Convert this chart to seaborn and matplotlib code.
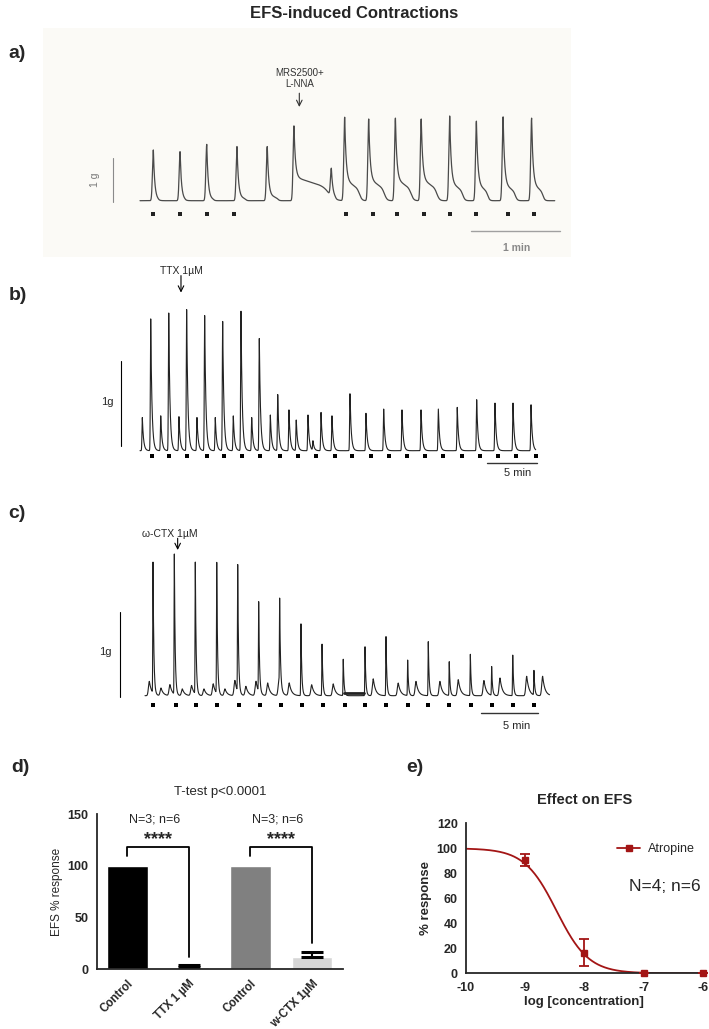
import numpy as np
import pandas as pd
import matplotlib
matplotlib.use('Agg')
import matplotlib.pyplot as plt
import seaborn as sns
from matplotlib.lines import Line2D
from matplotlib.patches import Rectangle

# ---------------- data ----------------
# a) MRS2500 + L-NNA trace (minutes, grams)
a_peak_t = [0.15, 0.45, 0.75, 1.09, 1.43, 1.73, 2.15, 2.30, 2.57, 2.87, 3.16, 3.48, 3.78, 4.08, 4.40]
a_peak_g = [1.18, 1.14, 1.31, 1.26, 1.26, 1.74, 0.65, 1.94, 1.90, 1.92, 1.90, 1.97, 1.85, 1.95, 1.92]
a_tail_g = [0.03, 0.03, 0.05, 0.08, 0.12, 0.55, 0.05, 0.48, 0.50, 0.50, 0.50, 0.42, 0.38, 0.38, 0.38]
a_tail_min = [0.06, 0.06, 0.08, 0.10, 0.12, 0.40, 0.05, 0.17, 0.18, 0.18, 0.18, 0.15, 0.13, 0.14, 0.13]
a_efs_t = [0.15, 0.45, 0.75, 1.06, 2.32, 2.62, 2.89, 3.19, 3.48, 3.78, 4.13, 4.43]
a_end = 4.66

# b) TTX 1 uM trace
b_peak_t = [0.23, 1.06, 2.05, 2.84, 3.85, 4.61, 5.63, 6.39, 7.44, 8.17,
            9.22, 9.98, 11.04, 11.79, 12.88, 13.61, 14.72, 15.44, 16.60, 17.09,
            17.89, 18.97, 20.75, 22.33, 24.08, 25.89, 27.77, 29.48, 31.35, 33.27,
            35.08, 36.86, 38.64]
b_peak_g = [0.39, 1.55, 0.41, 1.62, 0.40, 1.66, 0.39, 1.59, 0.39, 1.52,
            0.41, 1.64, 0.39, 1.32, 0.42, 0.66, 0.48, 0.36, 0.42, 0.11,
            0.45, 0.41, 0.67, 0.44, 0.49, 0.48, 0.48, 0.49, 0.51, 0.60,
            0.56, 0.56, 0.54]
b_efs_t = [1.16, 2.90, 4.67, 6.59, 8.33, 10.11, 11.89, 13.83, 15.58, 17.36, 19.27,
           20.98, 22.80, 24.60, 26.38, 28.13, 29.91, 31.82, 33.57, 35.35, 37.15, 39.13]
b_end = 39.1

# c) w-CTX 1 uM trace
c_efs_peak_t = [0.70, 2.56, 4.39, 6.26, 8.09, 9.92, 11.75, 13.61, 15.45, 17.30,
                19.20, 21.03, 22.92, 24.72, 26.55, 28.39, 30.25, 32.09, 33.94]
c_efs_peak_g = [1.55, 1.66, 1.56, 1.55, 1.50, 1.06, 1.03, 0.85, 0.61, 0.43,
                0.58, 0.70, 0.42, 0.64, 0.40, 0.49, 0.34, 0.48, 0.29]
c_spont_t = [0.38, 1.40, 2.18, 3.26, 4.07, 5.15, 5.96, 6.98, 7.85, 8.81, 9.69, 10.71, 11.69,
             12.59, 14.55, 16.43, 19.92, 22.10, 23.65, 25.74, 27.34, 29.58, 30.98, 33.31, 34.70]
c_spont_g = [0.17, 0.09, 0.13, 0.08, 0.12, 0.08, 0.14, 0.08, 0.18, 0.11, 0.17, 0.15, 0.17,
             0.15, 0.13, 0.14, 0.20, 0.15, 0.17, 0.17, 0.19, 0.18, 0.21, 0.23, 0.23]
c_efs_t = [0.72, 2.68, 4.42, 6.28, 8.18, 10.03, 11.87, 13.70, 15.51, 17.43,
           19.17, 21.00, 22.92, 24.72, 26.55, 28.42, 30.25, 32.14, 33.97]
c_flat = [17.40, 19.10, 0.03]
c_end = 35.3

# d) bar chart
d_labels = ['Control', 'TTX 1 µM', 'Control', 'w-CTX 1µM']
d_mean = [100, 2.5, 100, 11.5]
d_sd = [0, 1.7, 0, 5.0]
d_colors = ['#000000', '#c4c4c4', '#808080', '#d6d6d6']

# e) atropine concentration-response
e_logc = [-9, -8, -7, -6]
e_mean = [90.6, 16.6, 0.4, 0.4]
e_err = [4.5, 10.8, 0, 0]
e_top, e_bottom, e_logic50, e_hill = 100, 0, -8.47, 1.6
red = '#a31515'

# ---------------- helpers ----------------
W, H = 709, 1029
sns.set_style('white')
plt.rcParams['font.family'] = ['Liberation Sans', 'DejaVu Sans']
plt.rcParams['axes.unicode_minus'] = False

fig = plt.figure(figsize=(W / 100, H / 100), dpi=100)


def px_axes(l, t, r, b):
    ax = fig.add_axes([l / W, 1 - b / H, (r - l) / W, (b - t) / H])
    ax.set_facecolor('none')
    return ax


def trace_axes(l, t, r, b, x0, ppm, y0, ppg):
    ax = px_axes(l, t, r, b)
    ax.set_xlim((l - x0) / ppm, (r - x0) / ppm)
    ax.set_ylim((y0 - b) / ppg, (y0 - t) / ppg)
    ax.axis('off')
    return ax


def twitches(t, times, amps, rise, decay, tails=None, tail_len=None):
    y = np.zeros_like(t)
    for i, (t0, a) in enumerate(zip(times, amps)):
        dt = t - t0
        up = np.exp(-(np.minimum(dt, 0) / rise) ** 2)
        tail = tails[i] if tails else 0.0
        spike = np.where(dt < 0, up, np.exp(-np.maximum(dt, 0) / decay))
        y += (a - tail) * spike
        if tail:
            x = np.maximum(dt, 0) / tail_len[i]
            shoulder = (1 - 0.45 * np.clip(x, 0, 1)) / (1 + np.exp((x - 1) / 0.08))
            y += tail * np.where(dt < 0, up, shoulder)
    return y


def draw_trace(ax, t, y, color, lw):
    sns.lineplot(x=t, y=y, ax=ax, color=color, lw=lw, estimator=None, sort=False)


def arrow(ax, x, y_from, y_to, color):
    ax.annotate('', xy=(x, y_to), xytext=(x, y_from),
                arrowprops=dict(arrowstyle='->', lw=0.8, color=color, shrinkA=0, shrinkB=0))


# faint scanned background of panel a
fig.patches.append(Rectangle((43 / W, 1 - 257 / H), 528 / W, 229 / H, transform=fig.transFigure,
                             facecolor='#fbfaf6', edgecolor='none', zorder=-5))

fig.text(354 / W, 1 - 13 / H, 'EFS-induced Contractions', ha='center', va='center',
         fontsize=12, fontweight='bold')
for lab, (px, py) in {'a)': (17, 54), 'b)': (18, 296), 'c)': (17, 513),
                      'd)': (20, 768), 'e)': (415, 768)}.items():
    fig.text(px / W, 1 - py / H, lab, ha='center', va='center', fontsize=14, fontweight='bold')

# ---------------- a ----------------
ax = trace_axes(40, 55, 575, 262, 140, 89, 200.7, 43)
t = np.linspace(0, a_end, 20000)
draw_trace(ax, t, twitches(t, a_peak_t, a_peak_g, 0.014, 0.016, a_tail_g, a_tail_min), '#4a4a4a', 0.9)
sns.scatterplot(x=a_efs_t, y=[-0.31] * len(a_efs_t), ax=ax, marker='s', s=6, color='#222', linewidth=0)
ax.plot([-0.30, -0.30], [-0.03, 0.99], color='#8a8a8a', lw=0.8)
ax.text(-0.51, 0.48, '1 g', rotation=90, ha='center', va='center', fontsize=7.5, color='#777')
ax.text(1.79, 2.85, 'MRS2500+\nL-NNA', ha='center', va='center', fontsize=7, color='#333', linespacing=1.1)
arrow(ax, 1.79, 2.50, 2.18, '#333')
ax.plot([3.72, 4.72], [-0.70, -0.70], color='#a0a0a0', lw=1)
ax.text(4.23, -1.10, '1 min', ha='center', va='center', fontsize=7.5, color='#888', fontweight='bold')

# ---------------- b ----------------
ax = trace_axes(40, 262, 575, 490, 140, 10.12, 450.7, 85)
t = np.linspace(0, b_end, 30000)
draw_trace(ax, t, twitches(t, b_peak_t, b_peak_g, 0.05, 0.12), '#222', 0.8)
sns.scatterplot(x=b_efs_t, y=[-0.062] * len(b_efs_t), ax=ax, marker='s', s=6, color='black', linewidth=0)
ax.plot([-1.92, -1.92], [0.05, 1.05], color='black', lw=0.8)
ax.text(-3.18, 0.57, '1g', ha='center', va='center', fontsize=8)
ax.text(4.05, 2.11, 'TTX 1µM', ha='center', va='center', fontsize=7.5)
arrow(ax, 4.05, 2.06, 1.86, 'black')
ax.plot([34.26, 39.26], [-0.148, -0.148], color='#333', lw=1)
ax.text(37.3, -0.26, '5 min', ha='center', va='center', fontsize=8)

# ---------------- c ----------------
ax = trace_axes(40, 505, 575, 740, 145, 11.46, 695.7, 84.4)
t = np.linspace(0, c_end, 30000)
yc = twitches(t, c_efs_peak_t, c_efs_peak_g, 0.03, 0.07) + twitches(t, c_spont_t, c_spont_g, 0.11, 0.2)
draw_trace(ax, t, yc, '#222', 0.8)
ax.plot(c_flat[:2], [c_flat[2]] * 2, color='#222', lw=2)
sns.scatterplot(x=c_efs_t, y=[-0.107] * len(c_efs_t), ax=ax, marker='s', s=6, color='black', linewidth=0)
ax.plot([-2.22, -2.22], [-0.01, 0.99], color='black', lw=0.8)
ax.text(-3.49, 0.52, '1g', ha='center', va='center', fontsize=8)
ax.text(2.18, 1.91, 'ω-CTX 1µM', ha='center', va='center', fontsize=7.5)
arrow(ax, 2.85, 1.865, 1.726, 'black')
ax.plot([29.32, 34.32], [-0.21, -0.21], color='#333', lw=1)
ax.text(32.44, -0.355, '5 min', ha='center', va='center', fontsize=8)

# ---------------- d ----------------
ax = px_axes(96.7, 814.3, 343.3, 969.3)
df = pd.DataFrame({'pos': range(4), 'mean': d_mean})
sns.barplot(data=df, x='pos', y='mean', hue='pos', palette=d_colors, legend=False,
            width=0.655, errorbar=None, ax=ax, saturation=1)
for i, (m, s) in enumerate(zip(d_mean, d_sd)):
    if s > 0:
        ax.errorbar(i, m, yerr=[[0], [s]], color='black', lw=1.5, capsize=8, capthick=2.2)
ax.set_xlim(-0.5, 3.51)
ax.set_ylim(0, 150)
ax.set_yticks([0, 50, 100, 150])
ax.set_xticks(range(4))
ax.set_xticklabels(d_labels, rotation=45, ha='right', rotation_mode='anchor', fontweight='bold', fontsize=8.3)
for lab in ax.get_yticklabels():
    lab.set_fontweight('bold')
ax.tick_params(axis='y', direction='out', length=4, width=1.3, labelsize=9, pad=2)
ax.tick_params(axis='x', direction='out', length=4, width=1.3, pad=2)
sns.despine(ax=ax)
for sp in ['left', 'bottom']:
    ax.spines[sp].set_linewidth(1.3)
ax.set_xlabel('')
ax.set_ylabel('EFS % response', fontsize=8.5, labelpad=3)
for x0, x1, y1 in [(0, 1, 12.2), (2, 3, 25.1)]:
    ax.plot([x0, x0, x1, x1], [109.9, 118.6, 118.6, y1], color='black', lw=1.3, clip_on=False)
    ax.text((x0 + x1) / 2, 126.0, '****', ha='center', va='center', fontsize=13, fontweight='bold')
    ax.text((x0 + x1) / 2 - 0.05, 145, 'N=3; n=6', ha='center', va='center', fontsize=9)
ax.set_title('T-test p<0.0001', fontsize=9.5, pad=14)

# ---------------- e ----------------
ax = px_axes(466, 823.3, 702.7, 973.3)
xf = np.linspace(-10, -6, 400)
yf = e_bottom + (e_top - e_bottom) / (1 + 10 ** ((xf - e_logic50) * e_hill))
sns.lineplot(x=xf, y=yf, ax=ax, color=red, lw=1.3)
ax.errorbar(e_logc, e_mean, yerr=e_err, fmt='s', color=red, ms=5, capsize=3.5, lw=1.3,
            capthick=1.3, clip_on=False, zorder=5)
ax.set_xlim(-10, -6)
ax.set_ylim(0, 120)
ax.set_xticks([-10, -9, -8, -7, -6])
ax.set_yticks(range(0, 121, 20))
ax.tick_params(axis='both', direction='out', length=4, width=1.3, labelsize=9, pad=2)
for lab in ax.get_xticklabels() + ax.get_yticklabels():
    lab.set_fontweight('bold')
sns.despine(ax=ax)
for sp in ['left', 'bottom']:
    ax.spines[sp].set_linewidth(1.3)
ax.set_xlabel('log [concentration]', fontsize=9.5, fontweight='bold', labelpad=2)
ax.set_ylabel('% response', fontsize=9.5, fontweight='bold', labelpad=3)
ax.set_title('Effect on EFS', fontsize=10.5, fontweight='bold', pad=14)
handle = Line2D([0], [0], color=red, marker='s', ms=5, lw=1.3)
ax.legend([handle], ['Atropine'], loc='center left', bbox_to_anchor=(0.64, 0.827), frameon=False,
          fontsize=9, handlelength=1.8, handletextpad=0.6, borderpad=0, borderaxespad=0)
ax.text(-6.64, 69.3, 'N=4; n=6', ha='center', va='center', fontsize=12.5)

fig.savefig('out.png', dpi=100)
